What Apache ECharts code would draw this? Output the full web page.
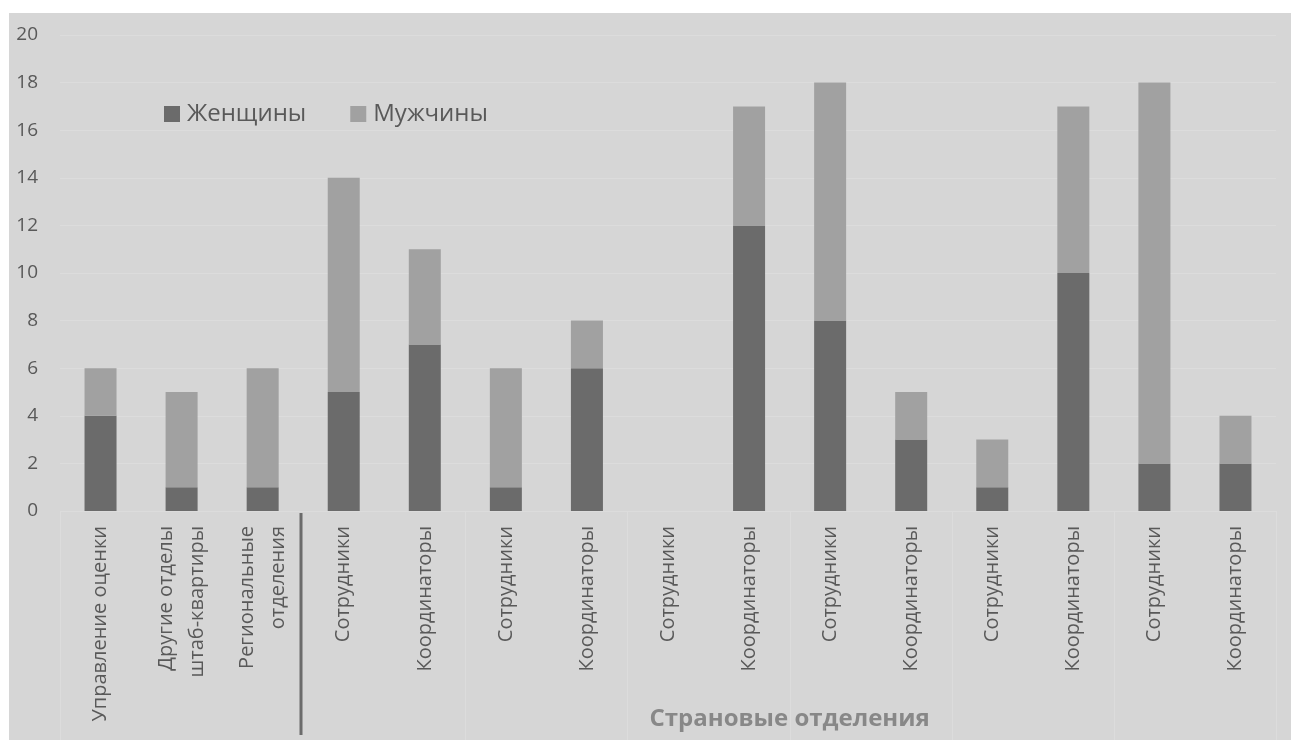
<!DOCTYPE html>
<html><head><meta charset="utf-8">
<script src="https://cdn.jsdelivr.net/npm/echarts@6/dist/echarts.min.js"></script>
<style>
html,body{margin:0;padding:0;background:#fff;width:1291px;height:740px;overflow:hidden;}
#c{position:absolute;left:9px;top:13px;width:1282px;height:727px;}
</style></head>
<body><div id="c"></div>
<script>
const categories = ['Управление оценки','Другие отделы\nштаб-квартиры','Региональные\nотделения',
  'Сотрудники','Координаторы','Сотрудники','Координаторы','Сотрудники','Координаторы',
  'Сотрудники','Координаторы','Сотрудники','Координаторы','Сотрудники','Координаторы'];
const women = [4,1,1,5,7,1,6,0,12,8,3,1,10,2,2];
const men   = [2,4,5,9,4,5,2,0,5,10,2,2,7,16,2];
const groupLabel = 'Страновые отделения';
const seriesNames = ['Женщины','Мужчины'];

const font = '"Open Sans", "Noto Sans", sans-serif';
const chart = echarts.init(document.getElementById('c'));
chart.setOption({
  backgroundColor:'#d6d6d6',
  animation:false,
  textStyle:{fontFamily:font},
  grid:{left:51,right:15,top:22,bottom:229,containLabel:false},
  legend:{left:150,top:84,itemWidth:16,itemHeight:16,itemGap:44,icon:'rect',
    textStyle:{fontSize:24,color:'#595959',fontFamily:font,padding:[0,0,0,2]},
    data:seriesNames},
  xAxis:{type:'category',data:categories,
    axisLine:{show:false},axisTick:{show:false},
    axisLabel:{rotate:90,interval:0,margin:15,fontSize:20,color:'#595959',lineHeight:31,fontFamily:font}},
  yAxis:{type:'value',min:0,max:20,interval:2,
    axisLine:{show:false},axisTick:{show:false},
    splitLine:{lineStyle:{color:'#dcdcdc',width:1}},
    axisLabel:{margin:22,fontSize:19,color:'#595959',fontFamily:font}},
  series:[
    {name:seriesNames[0],type:'bar',stack:'t',data:women,barWidth:32,
      itemStyle:{color:'#6b6b6b'}},
    {name:seriesNames[1],type:'bar',stack:'t',data:men,barWidth:32,
      itemStyle:{color:'#a1a1a1'}}
  ]
});

function edge(i){ // boundary to the left of category i
  const a = chart.convertToPixel({xAxisIndex:0}, 0);
  const b = chart.convertToPixel({xAxisIndex:0}, 1);
  const w = b - a;
  return a - w/2 + i*w;
}
const y0 = chart.convertToPixel({yAxisIndex:0}, 0);
const H = 727;
const faint = [0,5,7,9,11,13,15];
const g = [];
faint.forEach(i=>{
  const x = Math.round(edge(i))+0.5;
  g.push({type:'line',shape:{x1:x,y1:y0,x2:x,y2:H},style:{stroke:'#dcdcdc',lineWidth:1},silent:true});
});
const xs = Math.round(edge(3)) - 2;
g.push({type:'line',shape:{x1:xs,y1:y0+2,x2:xs,y2:H-5},style:{stroke:'#6b6b6b',lineWidth:3},silent:true});
const cx = (edge(3)+edge(15))/2;
g.push({type:'text',x:cx,y:H-21,style:{text:groupLabel,fontSize:24,fontWeight:'bold',fill:'#888888',
  align:'center',verticalAlign:'middle',fontFamily:font},silent:true});
chart.setOption({graphic:g});
</script></body></html>
